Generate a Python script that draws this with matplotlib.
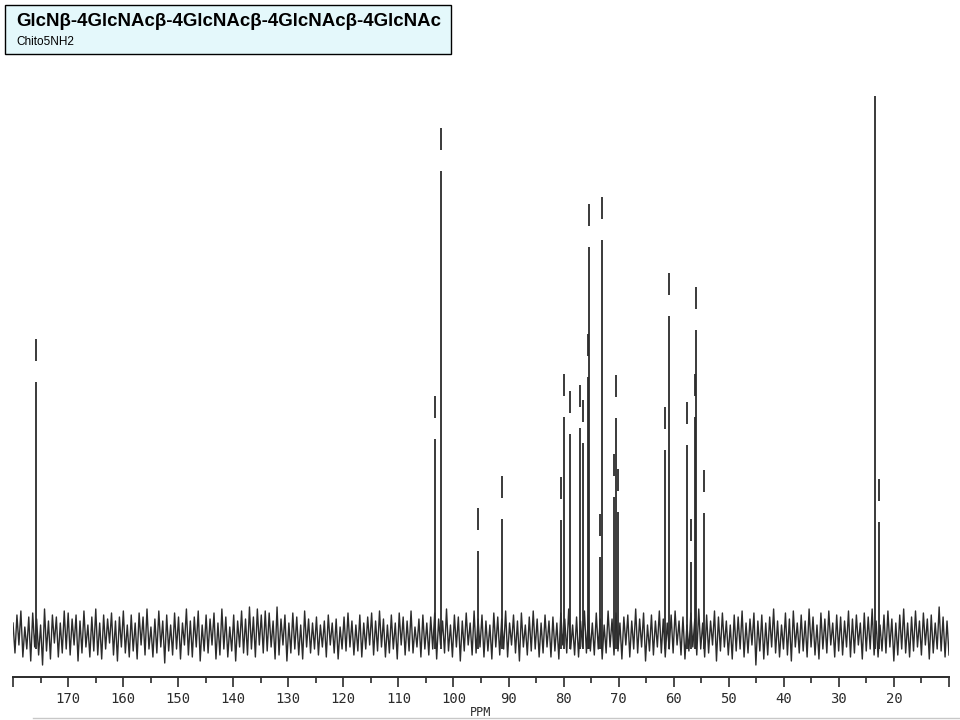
import matplotlib
matplotlib.use("Agg")
import matplotlib.pyplot as plt
import matplotlib.patches as patches
from matplotlib.lines import Line2D
from matplotlib.ticker import MultipleLocator
import numpy as np

# --- data ---
title = "GlcNβ-4GlcNAcβ-4GlcNAcβ-4GlcNAcβ-4GlcNAc"
subtitle = "Chito5NH2"

# peak positions (ppm) and heights above baseline (arbitrary units)
peak_ppm = [175.8, 103.4, 102.2, 95.6, 91.2, 80.4, 80.0, 78.9, 77.0, 76.4,
            75.5, 75.4, 73.3, 73.1, 70.9, 70.4, 70.1, 61.5, 60.8, 57.5,
            56.9, 56.1, 56.0, 54.5, 23.4, 22.8]
peak_height = [253, 196, 464, 84, 116, 115, 218, 201, 207, 192,
               258, 388, 78, 395, 138, 217, 123, 185, 319, 190,
               73, 218, 305, 122, 539, 113]
# peak-pick marks drawn above each tip (23.4 is off the top of the page)
marked = [True] * 24 + [False, True]

# baseline noise, extrema read left to right (180 -> 10 ppm)
noise = [
    12, -18, 20, -10, 24, -22, 8, -14, 18, -26, 22, -12, 16, -20, 10, -30, 26, -16, 14, -24, 20, -8, 18, -22, 12, -18, 24, -14, 22, -20,
    16, -10, 20, -26, 14, -18, 24, -12, 10, -22, 18, -16, 26, -20, 12, -24, 20, -14, 16, -8, 22, -20, 14, -26, 18, -12, 24, -18, 10, -22,
    20, -16, 12, -24, 22, -10, 18, -20, 26, -14, 8, -22, 16, -18, 24, -12, 14, -28, 20, -16, 10, -20, 22, -14, 18, -24, 12, -10, 26, -20,
    14, -22, 18, -12, 24, -26, 10, -16, 20, -18, 16, -10, 22, -24, 12, -20, 26, -14, 18, -22, 8, -16, 20, -26, 14, -12, 24, -18, 16, -20,
    28, -14, 18, -22, 26, -10, 20, -18, 24, -16, 22, -12, 14, -24, 28, -20, 16, -10, 20, -26, 12, -18, 22, -14, 18, -20, 10, -24, 24, -12,
    16, -18, 12, -14, 18, -20, 10, -12, 14, -22, 20, -10, 12, -18, 16, -24, 8, -14, 18, -16, 22, -12, 14, -20, 10, -16, 20, -22, 12, -14,
    18, -10, 22, -20, 14, -16, 24, -12, 16, -22, 10, -18, 20, -14, 12, -24, 22, -10, 18, -20, 14, -16, 24, -18, 8, -12, 16, -22, 20, -14,
    12, -20, 18, -14, 22, -24, 16, -10, 14, -18, 26, -16, 10, -22, 20, -12, 18, -26, 14, -16, 22, -10, 12, -20, 24, -18, 16, -12, 20, -22,
    14, -16, 10, -24, 22, -12, 18, -20, 16, -14, 24, -22, 12, -10, 20, -18, 14, -26, 22, -12, 10, -20, 18, -16, 24, -14, 16, -22, 12, -18,
    20, -12, 14, -22, 18, -16, 12, -24, 22, -10, 16, -18, 26, -14, 10, -20, 18, -22, 14, -12, 24, -18, 20, -16, 12, -20, 22, -14, 16, -24,
    10, -18, 24, -12, 16, -20, 22, -16, 12, -24, 18, -10, 20, -22, 14, -14, 26, -18, 16, -12, 22, -26, 10, -16, 20, -20, 14, -12, 24, -18,
    16, -22, 12, -14, 20, -18, 24, -10, 14, -20, 18, -24, 10, -16, 22, -12, 16, -20, 26, -14, 12, -22, 20, -18, 14, -10, 24, -26, 18, -16,
    22, -12, 14, -20, 10, -24, 20, -16, 18, -14, 24, -22, 12, -18, 16, -10, 22, -30, 14, -16, 20, -24, 12, -20, 18, -12, 26, -18, 14, -22,
    10, -14, 22, -20, 16, -26, 24, -12, 12, -18, 20, -16, 14, -22, 26, -12, 18, -20, 10, -24, 22, -14, 16, -18, 24, -10, 12, -22, 20, -16,
    18, -20, 14, -12, 24, -22, 16, -18, 20, -10, 12, -24, 22, -16, 18, -14, 26, -20, 14, -22, 10, -16, 20, -18, 24, -12, 16, -26, 12, -20,
    20, -14, 26, -18, 12, -22, 18, -16, 24, -12, 14, -20, 22, -10, 16, -24, 20, -18, 12, -14, 28, -16, 18, -22, 14, -20,
]

major_ticks = [180, 170, 160, 150, 140, 130, 120, 110, 100, 90, 80, 70, 60, 50, 40, 30, 20, 10]
tick_labels = ["", "170", "160", "150", "140", "130", "120", "110", "100",
               "90", "80", "70", "60", "50", "40", "30", "20", ""]

INK = "#2b2b2b"

fig = plt.figure(figsize=(9.6, 7.2), dpi=100)
fig.patch.set_facecolor("white")

W, H = 960, 720
ax = fig.add_axes([13 / W, 1 - 677 / H, (949 - 13) / W, (677 - 60) / H])

noise_ppm = np.linspace(180, 10, len(noise))
ax.plot(noise_ppm, noise, color=INK, linewidth=1.0)

ax.vlines(peak_ppm, -14, peak_height, color=INK, linewidth=1.3)
for p, h, m in zip(peak_ppm, peak_height, marked):
    if m:
        ax.vlines(p, h + 21, h + 43, color=INK, linewidth=1.3)

ax.set_xlim(180, 10)
ax.set_ylim(-42, 575)
for side in ["top", "left", "right"]:
    ax.spines[side].set_visible(False)
ax.spines["bottom"].set_color(INK)
ax.spines["bottom"].set_linewidth(1.4)
ax.set_yticks([])
ax.set_xticks(major_ticks)
ax.set_xticklabels(tick_labels, family="DejaVu Sans Mono", fontsize=10, color=INK)
ax.xaxis.set_minor_locator(MultipleLocator(5))
ax.tick_params(axis="x", which="major", direction="out", length=7, width=1.2, color=INK, pad=4)
ax.tick_params(axis="x", which="minor", direction="out", length=4, width=1.2, color=INK)
ax.set_xlabel("PPM", family="DejaVu Sans Mono", fontsize=8.5, color=INK, labelpad=0)
ax.patch.set_alpha(0)

# title box
box = patches.Rectangle((5 / W, 1 - 54 / H), 446 / W, 49 / H, transform=fig.transFigure,
                        facecolor="#e4f8fb", edgecolor="black", linewidth=1.0)
fig.patches.append(box)
fig.text(16 / W, 1 - 22 / H, title, family="Liberation Sans", fontweight="bold",
         fontsize=13.4, va="center", ha="left")
fig.text(16 / W, 1 - 42 / H, subtitle, family="Liberation Sans", fontsize=8.5,
         va="center", ha="left")

# faint scan edge at the bottom
fig.add_artist(Line2D([33 / W, 1], [1 - 718 / H, 1 - 718 / H], transform=fig.transFigure,
                      color="#c8c8c8", linewidth=1.0))

fig.savefig("out.png", dpi=100)
